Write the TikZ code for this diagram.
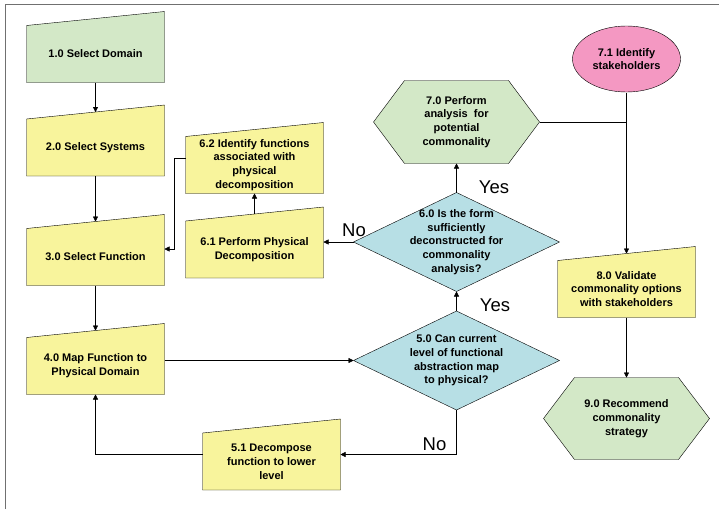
\documentclass[tikz,border=0pt]{standalone}
\usepackage{fontspec}
\setmainfont{Liberation Sans}
\usetikzlibrary{arrows.meta,backgrounds}

\definecolor{boxgreen}{RGB}{211,232,199}
\definecolor{boxyellow}{RGB}{248,244,156}
\definecolor{boxblue}{RGB}{183,223,229}
\definecolor{boxpink}{RGB}{244,152,194}
\definecolor{framegray}{RGB}{112,112,112}

% outlines drawn behind the named nodes
\newcommand{\manualshape}[2]{%
  \filldraw[fill=#2] (#1.south west) -- (#1.north west) -- ([yshift=14pt]#1.north east) -- (#1.south east) -- cycle;}
\newcommand{\hexshape}[2]{%
  \filldraw[fill=#2] (#1.west) -- ([xshift=31pt]#1.north west) -- ([xshift=-31pt]#1.north east) -- (#1.east)
    -- ([xshift=-31pt]#1.south east) -- ([xshift=31pt]#1.south west) -- cycle;}
\newcommand{\diamondshape}[2]{%
  \filldraw[fill=#2] (#1.north) -- (#1.east) -- (#1.south) -- (#1.west) -- cycle;}

\tikzset{
  every node/.style={font=\fontsize{11}{13.8}\selectfont\bfseries, align=center, inner sep=0pt},
  manualbox/.style={minimum width=137pt, minimum height=56pt},
  hexbox/.style={minimum width=165pt, minimum height=82pt},
  decision/.style={minimum width=205pt, minimum height=98pt},
  oval/.style={minimum width=108pt, minimum height=66pt},
  answer/.style={font=\fontsize{18.5}{22}\selectfont},
}

\begin{document}
\begin{tikzpicture}[x=1pt, y=-1pt, >={Triangle[length=5pt,width=5pt]}, line width=1pt]
    \useasboundingbox (0,0) rectangle (719,509);
    \draw[framegray, line width=1.5pt] (5.5,509) -- (5.5,4.5) -- (719,4.5);

    \node (d1) [manualbox] at (95.5,54) {1.0 Select Domain};
    \node (d2) [manualbox] at (95.5,147.5) {2.0 Select Systems};
    \node (d3) [manualbox] at (95.5,257) {3.0 Select Function};
    \node (d4) [manualbox] at (95.5,366) {4.0 Map Function to\\Physical Domain};
    \node (d51) [manualbox] at (271.5,461.5) {5.1 Decompose\\function to lower\\level};
    \node (d62) [manualbox] at (254.5,165) {6.2 Identify functions\\associated with\\physical\\decomposition};
    \node (d61) [manualbox] at (254.5,249.5) {6.1 Perform Physical\\Decomposition};
    \node (q5) [decision] at (456.5,360.5) {5.0 Can current\\level of functional\\abstraction map\\to physical?};
    \node (q6) [decision] at (456.5,242) {6.0 Is the form\\sufficiently\\deconstructed for\\commonality\\analysis?};
    \node (h7) [hexbox] at (456.5,122) {7.0 Perform\\analysis\ \ for\\potential\\commonality};
    \node (s71) [oval] at (626.5,59) {7.1 Identify\\stakeholders};
    \node (d8) [manualbox] at (626.5,289) {8.0 Validate\\commonality options\\with stakeholders};
    \node (h9) [hexbox, minimum height=81pt] at (626.5,418.5) {9.0 Recommend\\commonality\\strategy};

    \begin{pgfonlayer}{background}
        \manualshape{d1}{boxgreen}
        \foreach \n in {d2,d3,d4,d51,d61,d62,d8} {\manualshape{\n}{boxyellow}}
        \diamondshape{q5}{boxblue}
        \diamondshape{q6}{boxblue}
        \hexshape{h7}{boxgreen}
        \hexshape{h9}{boxgreen}
        \filldraw[fill=boxpink] (s71.center) ellipse [x radius=54pt, y radius=33pt];
    \end{pgfonlayer}

    \node (yes6) [answer] at (494,187) {Yes};
    \node (yes5) [answer] at (495,305) {Yes};
    \node (no6) [answer] at (354,230) {No};
    \node (no5) [answer] at (434.5,444) {No};

    \draw[->] (d1.south) -- ([yshift=7pt]d2.north);
    \draw[->] (d2.south) -- ([yshift=7pt]d3.north);
    \draw[->] (d3.south) -- ([yshift=7pt]d4.north);
    \draw[->] (q5.west -| d4.east) -- (q5.west);
    \draw[->] (q5.north) -- (q6.south);
    \draw[->] (q5.south) |- ([yshift=7pt]d51.east);
    \draw[->] ([yshift=7pt]d51.west) -| (d4.south);
    \draw[->] (q6.west) -- (q6.west -| d61.east);
    \draw[->] ([yshift=7pt]d61.north) -- (d62.south);
    \draw[->] ([yshift=7pt]d62.west) -- ++(-11,0) |- ([yshift=8pt]d3.east);
    \draw[->] (q6.north) -- (h7.south);
    \draw (h7.east) -- (h7.east -| s71.south);
    \draw[->] (s71.south) -- ([yshift=7pt]d8.north);
    \draw[->] (d8.south) -- (h9.north);
\end{tikzpicture}
\end{document}
